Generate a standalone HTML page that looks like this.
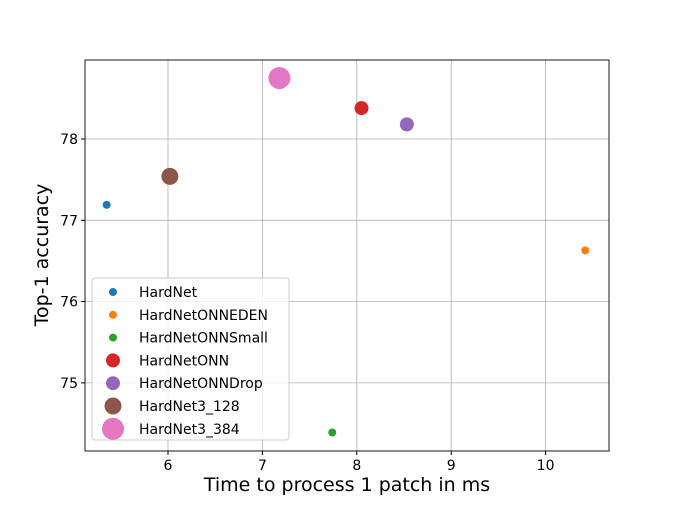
<!DOCTYPE html>
<html><head><meta charset="utf-8"><style>body{margin:0;background:#fff}svg{font-family:"DejaVu Sans","Liberation Sans",sans-serif}</style></head>
<body>
<svg id="chart" width="677" height="505"></svg>
<script>
const names=["HardNet","HardNetONNEDEN","HardNetONNSmall","HardNetONN","HardNetONNDrop","HardNet3_128","HardNet3_384"];
const times=[5.35,10.42,7.74,8.05,8.53,6.02,7.18];
const accs=[77.19,76.63,74.39,78.38,78.18,77.54,78.75];
const sizes=[4,4,4,7,7,8.5,11];
const colors=["#1f77b4","#ff7f0e","#2ca02c","#d62728","#9467bd","#8c564b","#e377c2"];
const xTicks=[6,7,8,9,10];
const yTicks=[75,76,77,78];
const L=85,R=609,T=60,B=451;
const X=v=>168+(v-6)*94.4;
const Y=v=>139+(78-v)*81.3;
const svg=document.getElementById('chart');
const NS="http://www.w3.org/2000/svg";
function mk(t,a,p){const e=document.createElementNS(NS,t);for(const k in a)e.setAttribute(k,a[k]);(p||svg).appendChild(e);return e;}
xTicks.forEach(v=>{
 const g=mk('line',{x1:X(v),x2:X(v),y1:T,y2:B,stroke:'#b0b0b0','stroke-width':0.8});
 
 
 mk('line',{x1:X(v),x2:X(v),y1:B,y2:B+4,stroke:'#000'});
 const t=mk('text',{x:X(v),y:B+19,'text-anchor':'middle','font-size':14});t.textContent=v;
 
 
});
yTicks.forEach(v=>{
 const g=mk('line',{x1:L,x2:R,y1:Y(v),y2:Y(v),stroke:'#b0b0b0','stroke-width':0.8});
 
 
 mk('line',{x1:L-4,x2:L,y1:Y(v),y2:Y(v),stroke:'#000'});
 const t=mk('text',{x:L-7,y:Y(v)+5,'text-anchor':'end','font-size':14});t.textContent=v;
 
 
});
names.forEach((n,i)=>{
 const c=mk('circle',{cx:X(times[i]),cy:Y(accs[i]),r:sizes[i],fill:colors[i]});
 
 
});
const fr=mk('rect',{x:L,y:T,width:R-L,height:B-T,fill:'none',stroke:'#000','stroke-width':0.9});


const xt=mk('text',{x:347,y:491,'text-anchor':'middle','font-size':19});xt.textContent='Time to process 1 patch in ms';


const yt=mk('text',{x:48,y:255,'text-anchor':'middle','font-size':19,transform:'rotate(-90 48 255)'});yt.textContent='Top-1 accuracy';


const lg=mk('g',{});


mk('rect',{x:92,y:278,width:197,height:162,rx:3,fill:'#fff','fill-opacity':0.8,stroke:'#ccc'},lg);
names.forEach((n,i)=>{
 const y=292+i*22.8;
 const e=mk('g',{},lg);
 
 
 mk('circle',{cx:113,cy:y,r:sizes[i],fill:colors[i]},e);
 const t=mk('text',{x:139,y:y+5,'font-size':14},e);t.textContent=n;
});
</script>
</body></html>
